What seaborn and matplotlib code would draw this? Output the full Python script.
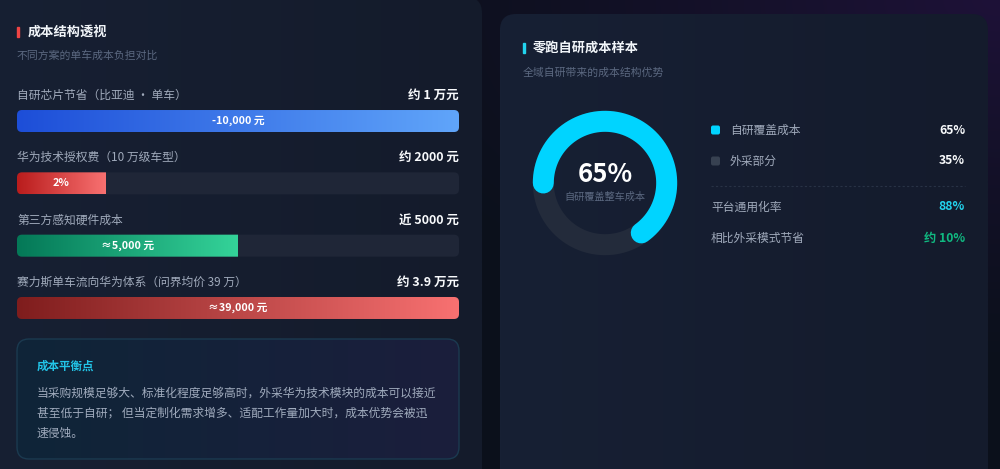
import numpy as np
import pandas as pd
import matplotlib
matplotlib.use("Agg")
import matplotlib.pyplot as plt
import seaborn as sns
from matplotlib.patches import FancyBboxPatch, Rectangle
from matplotlib.colors import LinearSegmentedColormap, to_rgb

# ---- data ----
row_labels = ["自研芯片节省（比亚迪 · 单车）", "华为技术授权费（10 万级车型）",
              "第三方感知硬件成本", "赛力斯单车流向华为体系（问界均价 39 万）"]
row_values = ["约 1 万元", "约 2000 元", "近 5000 元", "约 3.9 万元"]
bar_pct = [100, 20, 50, 100]
bar_texts = ["-10,000 元", "2%", "≈5,000 元", "≈39,000 元"]
bar_colors = [("#1d4ed8", "#60a5fa"), ("#b91c1c", "#f87171"),
              ("#047857", "#34d399"), ("#7f1d1d", "#f87171")]

donut_labels = ["自研覆盖成本", "外采部分"]
donut_values = [65, 35]
donut_colors = ["#00d4ff", "#232b3b"]
legend_colors = ["#00d4ff", "#374151"]

metric_labels = ["平台通用化率", "相比外采模式节省"]
metric_values = ["88%", "约 10%"]
metric_colors = ["#22d3ee", "#10b981"]

note_title = "成本平衡点"
note_lines = ["当采购规模足够大、标准化程度足够高时，外采华为技术模块的成本可以接近",
              "甚至低于自研； 但当定制化需求增多、适配工作量加大时，成本优势会被迅",
              "速侵蚀。"]

sns.set_theme(style="dark")
plt.rcParams["font.family"] = ["Noto Sans CJK SC", "DejaVu Sans"]

W, H = 1000, 469
fig = plt.figure(figsize=(10, 4.69), dpi=100)
fig.patch.set_facecolor("#0c111d")
ax = fig.add_axes([0, 0, 1, 1])
ax.set_xlim(0, W)
ax.set_ylim(H, 0)
ax.axis("off")

# background with purple glow at top right
yy, xx = np.mgrid[0:H, 0:W]
base = np.array(to_rgb("#0b101b"))
glow = np.array(to_rgb("#1e1238"))
d = np.sqrt(((xx - W) / 700.0) ** 2 + (yy / 380.0) ** 2)
t = np.clip(1 - d, 0, 1)[..., None] ** 1.3
bg = base * (1 - t) + glow * t
ax.imshow(bg, extent=(0, W, H, 0), aspect="auto", zorder=0)


def grad_box(axis, x0, y0, w, h, c1, c2, r, ma=1.0, z=2, edge=None):
    patch = FancyBboxPatch((x0, y0), w, h, boxstyle=f"round,pad=0,rounding_size={r}",
                           mutation_aspect=ma, facecolor="none",
                           edgecolor=edge if edge else "none", lw=1, zorder=z + 0.1)
    axis.add_patch(patch)
    cmap = LinearSegmentedColormap.from_list("g", [c1, c2])
    im = axis.imshow(np.linspace(0, 1, 256).reshape(1, -1), cmap=cmap,
                     extent=(x0, x0 + w, y0 + h, y0), aspect="auto", zorder=z)
    im.set_clip_path(patch)
    return patch


# panels
grad_box(ax, -20, -3, 502, 500, "#172033", "#141b2b", 16, z=1)
grad_box(ax, 500, 14, 488, 480, "#172034", "#141b2c", 16, z=1)

# ---- left panel ----
ax.add_patch(Rectangle((17, 27), 2.2, 10, color="#ef4444", zorder=3))
ax.text(28, 32, "成本结构透视", color="#f1f5f9", fontsize=9.5, fontweight="bold",
        va="center", zorder=4)
ax.text(17, 56, "不同方案的单车成本负担对比", color="#5b6880", fontsize=7.8,
        va="center", zorder=4)

# bars on their own axes (x: percent, y: category)
bx0, bx1 = 17, 459
by0, by1 = 121 - 31.15, 308 + 31.15
bax = fig.add_axes([bx0 / W, 1 - by1 / H, (bx1 - bx0) / W, (by1 - by0) / H])
bax.patch.set_alpha(0)
df = pd.DataFrame({"label": row_labels, "pct": bar_pct})
sns.barplot(data=df, x="pct", y="label", orient="h", width=0.353, ax=bax,
            color="#333333")
bax.set_xlim(0, 100)
bax.set_ylim(3.5, -0.5)
bax.axis("off")

px_x = (bx1 - bx0) / 100.0
px_y = (by1 - by0) / 4.0
ma = px_x / px_y
rr = 5 / px_x
bars = sorted(bax.patches, key=lambda p: p.get_y())
for i, p in enumerate(bars):
    y0, h, w = p.get_y(), p.get_height(), p.get_width()
    p.remove()
    track = FancyBboxPatch((0, y0), 100, h, boxstyle=f"round,pad=0,rounding_size={rr}",
                           mutation_aspect=ma, facecolor="#1f2637", edgecolor="none",
                           zorder=1)
    bax.add_patch(track)
    cmap = LinearSegmentedColormap.from_list("b", list(bar_colors[i]))
    im = bax.imshow(np.linspace(0, 1, 256).reshape(1, -1), cmap=cmap,
                    extent=(0, w, y0 + h, y0), aspect="auto", zorder=2)
    im.set_clip_path(track)
    bax.text(w / 2, i, bar_texts[i], color="white", fontsize=7.8, fontweight="bold",
             ha="center", va="center", zorder=3)
    bax.text(0, i - 0.415, row_labels[i], color="#a0aabb", fontsize=8.5,
             ha="left", va="center", zorder=3)
    bax.text(100, i - 0.415, row_values[i], color="#f8fafc", fontsize=9.0,
             fontweight="bold", ha="right", va="center", zorder=3)
bax.set_xlim(0, 100)
bax.set_ylim(3.5, -0.5)

# note box
grad_box(ax, 17, 339, 442, 120, "#0f2538", "#1b1e3c", 12, z=3, edge="#1b3a50")
ax.text(37, 366, note_title, color="#22c5e8", fontsize=8.3, fontweight="bold",
        va="center", zorder=5)
for k, line in enumerate(note_lines):
    ax.text(37, 393 + 20.3 * k, line, color="#a0abbd", fontsize=8.5,
            va="center", zorder=5)

# ---- right panel ----
ax.add_patch(Rectangle((523, 43), 2.2, 10, color="#22d3ee", zorder=3))
ax.text(533, 48, "零跑自研成本样本", color="#f1f5f9", fontsize=9.5,
        fontweight="bold", va="center", zorder=4)
ax.text(523, 73, "全域自研带来的成本结构优势", color="#5b6880", fontsize=7.8,
        va="center", zorder=4)

cx, cy, rad = 605, 183, 61.7
ring_lw = 21 * 72 / 100
th = np.linspace(0, 2 * np.pi, 400)
ax.plot(cx + rad * np.cos(th), cy + rad * np.sin(th), color=donut_colors[1],
        lw=ring_lw, zorder=3)
share = donut_values[0] / sum(donut_values)
th = np.radians(np.linspace(180, 180 - 360 * share, 300))
ax.plot(cx + rad * np.cos(th), cy - rad * np.sin(th), color=donut_colors[0],
        lw=ring_lw, solid_capstyle="round", zorder=4)
ax.text(cx, 175, f"{donut_values[0]}%", color="white", fontsize=18.5,
        fontweight="bold", ha="center", va="center", zorder=5)
ax.text(cx, 197, "自研覆盖整车成本", color="#5b6880", fontsize=7.3,
        ha="center", va="center", zorder=5)

for k, (lab, val) in enumerate(zip(donut_labels, donut_values)):
    yk = 130 + 31 * k
    ax.add_patch(FancyBboxPatch((711, yk - 4.5), 9, 9, boxstyle="round,pad=0,rounding_size=2",
                                facecolor=legend_colors[k], edgecolor="none", zorder=4))
    ax.text(730, yk, lab, color="#a0aabb", fontsize=8.5, va="center", zorder=4)
    ax.text(965, yk, f"{val}%", color="#f8fafc", fontsize=8.8, fontweight="bold",
            ha="right", va="center", zorder=4)

ax.plot([711, 965], [186, 186], color="#283245", lw=0.8, ls=(0, (2, 2)), zorder=3)

for k, (lab, val, col) in enumerate(zip(metric_labels, metric_values, metric_colors)):
    yk = 207 + 31 * k
    ax.text(711, yk, lab, color="#a0aabb", fontsize=8.5, va="center", zorder=4)
    ax.text(965, yk, val, color=col, fontsize=8.8, fontweight="bold",
            ha="right", va="center", zorder=4)

ax.set_xlim(0, W)
ax.set_ylim(H, 0)
fig.savefig("out.png", dpi=100, facecolor=fig.get_facecolor())
